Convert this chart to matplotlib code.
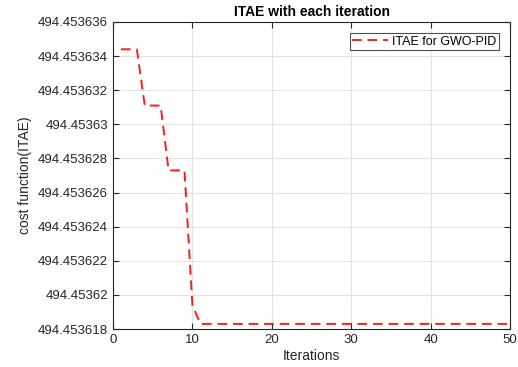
import matplotlib
matplotlib.use("Agg")
import matplotlib.pyplot as plt
from matplotlib.ticker import FuncFormatter, FixedLocator

plt.rcParams['font.family'] = ['Liberation Sans', 'DejaVu Sans']

iterations = list(range(1, 51))
itae = ([494.4536344] * 3 + [494.4536311] * 3 + [494.4536273] * 3 +
        [494.4536194, 494.4536183] + [494.4536183] * 39)

y_ticks = [494.453618, 494.453620, 494.453622, 494.453624, 494.453626,
           494.453628, 494.453630, 494.453632, 494.453634, 494.453636]
x_ticks = [0, 10, 20, 30, 40, 50]

ink = '#262626'

fig = plt.figure(figsize=(5.18, 3.67), dpi=100)
ax = fig.add_axes([113 / 518, 1 - 329 / 367, (510 - 113) / 518, (329 - 22) / 367])

ax.plot(iterations, itae, color='#ff1a1a', linestyle=(0, (5, 3)), linewidth=1.4,
        label='ITAE for GWO-PID')

ax.set_xlim(0, 50)
ax.set_ylim(y_ticks[0], y_ticks[-1])
ax.xaxis.set_major_locator(FixedLocator(x_ticks))
ax.yaxis.set_major_locator(FixedLocator(y_ticks))


def fmt(v, pos):
    s = '%.6f' % v
    return s.rstrip('0').rstrip('.')


ax.yaxis.set_major_formatter(FuncFormatter(fmt))

ax.grid(True, color='#e3e3e3', linewidth=0.8)
ax.set_axisbelow(True)
ax.tick_params(direction='in', top=True, right=True, length=4, width=0.8,
               colors=ink, labelsize=9.5, labelcolor=ink)
for sp in ax.spines.values():
    sp.set_color(ink)
    sp.set_linewidth(0.8)

ax.set_title('ITAE with each iteration', fontsize=10, fontweight='bold', color='black', pad=4)
ax.set_xlabel('Iterations', fontsize=10, color=ink, labelpad=2)
ax.set_ylabel('cost function(ITAE)', fontsize=10, color=ink, labelpad=4)

leg = ax.legend(loc='upper right', fontsize=9, frameon=True, fancybox=False,
                edgecolor=ink, handlelength=2.9, borderpad=0.2, handletextpad=0.3,
                borderaxespad=0.9)
leg.get_frame().set_linewidth(0.8)

fig.savefig('out.png', dpi=100)
